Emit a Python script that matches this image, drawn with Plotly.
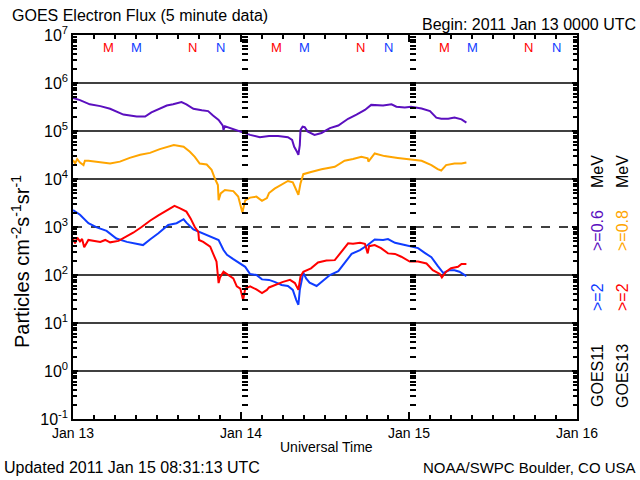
import pandas as pd
import plotly.graph_objects as go

BASE = "2011-01-13"

# ---------------- data (hours after 2011-01-13 00 UTC, flux) ----------------
g11_06_hours = [0, 1, 2.4, 3.9, 5.3, 7.2, 9.1, 10.3, 11.2, 12.2, 13.4, 14.3, 15.5, 16.2, 17.2, 18.4,
                19.3, 20.0, 20.8, 21.4, 21.5, 21.7, 22.9, 24.1, 25.3, 26.7, 28.0, 29.3, 30.7, 31.3,
                31.6, 32.0, 32.2, 32.4, 32.5, 32.8, 33.1, 33.5, 34.5, 35.5, 36.7, 37.9, 39.3, 40.5,
                41.7, 42.6, 44.3, 45.5, 46.2, 47.4, 48.3, 49.8, 51.0, 51.9, 52.6, 53.6, 54.5, 55.5, 56.2]
g11_06_flux = [4.9e5, 4.4e5, 3.6e5, 3.3e5, 2.9e5, 2.2e5, 2.0e5, 2.0e5, 2.45e5, 2.8e5, 3.4e5, 3.6e5,
               4.0e5, 3.6e5, 2.9e5, 2.7e5, 2.6e5, 2.1e5, 1.7e5, 1.3e5, 1.05e5, 1.26e5, 1.1e5, 9.8e4,
               8.3e4, 7.4e4, 7.9e4, 7.9e4, 7.4e4, 6.5e4, 4.7e4, 3.7e4, 3.2e4, 5.1e4, 1.05e5, 1.23e5,
               1.2e5, 9.8e4, 8.3e4, 9.1e4, 1.15e5, 1.3e5, 1.8e5, 2.2e5, 2.75e5, 3.5e5, 3.4e5, 3.6e5,
               3.2e5, 3.1e5, 3.2e5, 2.95e5, 2.6e5, 1.9e5, 1.8e5, 1.8e5, 1.9e5, 1.75e5, 1.5e5]

g13_08_hours = [0, 0.3, 0.6, 1.0, 1.5, 1.7, 2.2, 3.4, 4.8, 5.3, 6.7, 8.1, 9.6, 11, 12.4, 13.6, 14.4,
                15.8, 16.7, 17.4, 18.1, 19.1, 19.8, 20.3, 20.7, 20.8, 21.1, 21.7, 22.9, 23.6, 24.2,
                24.6, 25.3, 26.2, 27.0, 27.7, 28.0, 28.8, 30.0, 30.7, 31.4, 32.0, 32.2, 32.5, 32.9,
                34.0, 35.5, 37.4, 38.8, 40.0, 41.2, 42.1, 42.2, 43.1, 44.5, 46.4, 47.9, 49.8, 51.2,
                52.1, 52.6, 53.3, 54.5, 55.5, 56.2]
g13_08_flux = [2.5e4, 2.1e4, 2.6e4, 2.2e4, 1.95e4, 2.4e4, 2.4e4, 2.3e4, 2.2e4, 2.1e4, 2.3e4, 2.75e4,
               3.2e4, 3.5e4, 4.2e4, 4.7e4, 5.1e4, 4.7e4, 3.7e4, 2.9e4, 2.1e4, 2.0e4, 1.55e4, 1.0e4,
               7.5e3, 3.6e3, 5.0e3, 5.9e3, 5.6e3, 4.3e3, 2.0e3, 3.6e3, 4.1e3, 4.3e3, 3.5e3, 4.0e3,
               5.1e3, 6.3e3, 8.1e3, 9.1e3, 8.5e3, 5.5e3, 4.7e3, 8.1e3, 1.26e4, 1.4e4, 1.6e4, 1.8e4,
               2.4e4, 2.6e4, 2.9e4, 2.7e4, 2.3e4, 3.4e4, 3.0e4, 2.75e4, 2.6e4, 2.4e4, 1.95e4, 1.6e4,
               1.5e4, 1.95e4, 2.1e4, 2.1e4, 2.2e4]

g11_2_hours = [0, 1, 2.2, 3.4, 4.8, 6.2, 7.7, 8.9, 10, 11, 12.2, 13.6, 14.8, 15.8, 16.2, 17.2, 18.6,
               20.0, 20.8, 21.5, 22.0, 22.9, 23.9, 24.6, 25.3, 26.2, 27.0, 28.0, 28.8, 29.8, 30.7,
               31.4, 31.9, 32.2, 32.4, 32.9, 33.3, 33.8, 34.8, 35.5, 36.7, 37.9, 38.8, 39.8, 41.0,
               42.1, 43.1, 44.3, 45.0, 46.0, 47.4, 48.3, 49.3, 50.2, 51.2, 52.1, 52.9, 53.8, 54.5,
               55.2, 55.9, 56.2]
g11_2_flux = [2260, 1800, 1200, 980, 830, 575, 490, 457, 420, 550, 740, 1100, 1200, 1450, 1230, 890,
              740, 610, 537, 331, 263, 214, 174, 148, 105, 100, 81, 79, 72, 62, 59, 49, 30, 24, 49,
              112, 85, 69, 59, 72, 100, 120, 174, 275, 331, 422, 550, 537, 562, 468, 422, 389, 363,
              292, 234, 155, 110, 126, 126, 117, 100, 95]

g13_2_hours = [0, 0.3, 0.6, 1.0, 1.3, 1.6, 2.2, 3.1, 3.9, 4.6, 5.3, 6.5, 7.4, 8.6, 9.8, 11, 12.2,
               13.4, 14.5, 15.3, 16.2, 16.8, 17.4, 17.9, 18.0, 18.6, 19.6, 20.0, 20.5, 20.8, 21.0,
               21.5, 22.2, 22.9, 23.4, 23.9, 24.3, 24.6, 25.3, 26.2, 27.0, 27.7, 28.0, 28.8, 30.0,
               31.0, 31.7, 32.2, 32.5, 32.9, 34.0, 35.0, 36.2, 37.4, 38.1, 39.3, 40.0, 41.0, 41.7,
               42.1, 42.3, 43.1, 44.0, 45.0, 46.0, 46.9, 48.1, 49.3, 50.5, 51.4, 52.4, 52.7, 53.3,
               54.0, 55.0, 55.5, 56.2]
g13_2_flux = [575, 457, 600, 500, 562, 380, 537, 513, 490, 537, 479, 513, 610, 760, 1000, 1350, 1740,
              2240, 2750, 2450, 2090, 1510, 1000, 794, 537, 490, 389, 282, 191, 68, 89, 117, 100, 85,
              58, 52, 30, 52, 58, 50, 42, 49, 55, 62, 72, 79, 68, 49, 93, 117, 138, 182, 200, 204,
              275, 457, 447, 468, 447, 282, 398, 422, 363, 282, 275, 240, 191, 191, 174, 126, 105,
              89, 117, 138, 148, 170, 170]

# local midnight / noon markers (hour after 2011-01-13 00 UTC)
marker_hours = [5, 9, 17, 21, 29, 33, 41, 45, 53, 57, 65, 69]
marker_text = ["M", "M", "N", "N", "M", "M", "N", "N", "M", "M", "N", "N"]
marker_sat = ["g13", "g11", "g13", "g11", "g13", "g11", "g13", "g11", "g13", "g11", "g13", "g11"]

decade_lines = [1e6, 1e5, 1e4, 1e3, 1e2, 1e1, 1e0]
dashed_line = 1e3

day_ticks = ["2011-01-13", "2011-01-14", "2011-01-15", "2011-01-16"]
day_labels = ["Jan 13", "Jan 14", "Jan 15", "Jan 16"]
y_tickvals = [1e-1, 1e0, 1e1, 1e2, 1e3, 1e4, 1e5, 1e6, 1e7]
y_ticktext = ["10<sup>-1</sup>", "10<sup>0</sup>", "10<sup>1</sup>", "10<sup>2</sup>", "10<sup>3</sup>",
              "10<sup>4</sup>", "10<sup>5</sup>", "10<sup>6</sup>", "10<sup>7</sup>"]

PURPLE = "#5b0fbf"
ORANGE = "#ffa500"
BLUE = "#0f3cff"
RED = "#ff0000"
FONT = "Liberation Sans"
sat_color = {"g13": RED, "g11": BLUE}


def to_time(hours):
    return pd.Timestamp(BASE) + pd.to_timedelta(hours, unit="h")


fig = go.Figure()
for hrs, flux, col in [(g11_06_hours, g11_06_flux, PURPLE), (g13_08_hours, g13_08_flux, ORANGE),
                       (g11_2_hours, g11_2_flux, BLUE), (g13_2_hours, g13_2_flux, RED)]:
    fig.add_trace(go.Scatter(x=to_time(hrs), y=flux, mode="lines",
                             line=dict(color=col, width=2), showlegend=False, hoverinfo="skip"))

# dummy traces so the mid-plot tick axes are drawn
for ya in ["y2", "y3"]:
    fig.add_trace(go.Scatter(x=[], y=[], yaxis=ya, showlegend=False, hoverinfo="skip"))

for v in decade_lines:
    fig.add_shape(type="line", xref="paper", x0=0, x1=1, yref="y", y0=v, y1=v,
                  line=dict(color="black", width=1.5, dash="dash" if v == dashed_line else "solid"),
                  layer="below")

tick_axis = dict(type="log", range=[-1, 7], overlaying="y", anchor="free", showline=False,
                 showgrid=False, zeroline=False, showticklabels=False, ticks="inside", ticklen=6,
                 tickcolor="black", tickwidth=1.5, tickvals=y_tickvals,
                 minor=dict(ticks="inside", ticklen=6, tickcolor="black", tickwidth=1.5, dtick="D1"))

fig.update_layout(
    width=640, height=480,
    margin=dict(l=73, r=63, t=35, b=61),
    paper_bgcolor="white", plot_bgcolor="white",
    font=dict(family=FONT, color="black", size=14),
    xaxis=dict(type="date", range=[day_ticks[0], day_ticks[-1]], tickvals=day_ticks, ticktext=day_labels,
               ticks="inside", ticklen=7, tickwidth=1.5, tickcolor="black", mirror="ticks",
               showline=True, linecolor="black", linewidth=1.5, showgrid=False, zeroline=False,
               tickfont=dict(size=14), ticklabelstandoff=0,
               minor=dict(ticks="inside", ticklen=4, tickcolor="black", tickwidth=1.5, dtick=3 * 3600 * 1000)),
    yaxis=dict(type="log", range=[-1, 7], tickvals=y_tickvals, ticktext=y_ticktext,
               ticks="inside", ticklen=5, tickwidth=1.5, tickcolor="black", mirror="ticks",
               showline=True, linecolor="black", linewidth=1.5, showgrid=False, zeroline=False,
               tickfont=dict(size=16),
               minor=dict(ticks="inside", ticklen=4, tickcolor="black", tickwidth=1.5, dtick="D1")),
    yaxis2=dict(position=1 / 3, **tick_axis),
    yaxis3=dict(position=2 / 3, **tick_axis),
)


def px_x(px):
    return (px - 73) / 504


def px_y(py):
    return (419 - py) / 384


ann = []
ann.append(dict(text="GOES Electron Flux (5 minute data)", x=px_x(10), y=px_y(15), xanchor="left",
                font=dict(size=16)))
ann.append(dict(text="Begin: 2011 Jan 13 0000 UTC", x=px_x(638), y=px_y(24), xanchor="right",
                font=dict(size=16)))
ann.append(dict(text="Updated 2011 Jan 15 08:31:13 UTC", x=px_x(2), y=px_y(467), xanchor="left",
                font=dict(size=16)))
ann.append(dict(text="NOAA/SWPC Boulder, CO USA", x=px_x(638), y=px_y(467), xanchor="right",
                font=dict(size=15)))
ann.append(dict(text="Universal Time", x=px_x(326), y=px_y(447), xanchor="center", font=dict(size=14)))
ann.append(dict(text="Particles cm<sup>-2</sup>s<sup>-1</sup>sr<sup>-1</sup>", x=px_x(20), y=px_y(262),
                xanchor="center", textangle=-90, font=dict(size=20)))

# right-hand legend
legend_items = [
    (597, 376, "GOES11", "black"), (597, 297, ">=2", BLUE), (597, 231, ">=0.6", PURPLE), (597, 172, "MeV", "black"),
    (622, 376, "GOES13", "black"), (622, 297, ">=2", RED), (622, 231, ">=0.8", ORANGE), (622, 172, "MeV", "black"),
]
for px, py, t, c in legend_items:
    ann.append(dict(text=t, x=px_x(px), y=px_y(py), xanchor="center", textangle=-90,
                    font=dict(size=16, color=c)))

for a in ann:
    a.setdefault("xref", "paper")
    a.setdefault("yref", "paper")
    a.setdefault("yanchor", "middle")
    a["showarrow"] = False

for h, t, s in zip(marker_hours, marker_text, marker_sat):
    ann.append(dict(text=t, x=to_time(h), xref="x", y=px_y(48), yref="paper", xanchor="center",
                    yanchor="middle", showarrow=False, font=dict(size=13, color=sat_color[s])))

fig.update_layout(annotations=ann)
fig.write_html("out.html")
